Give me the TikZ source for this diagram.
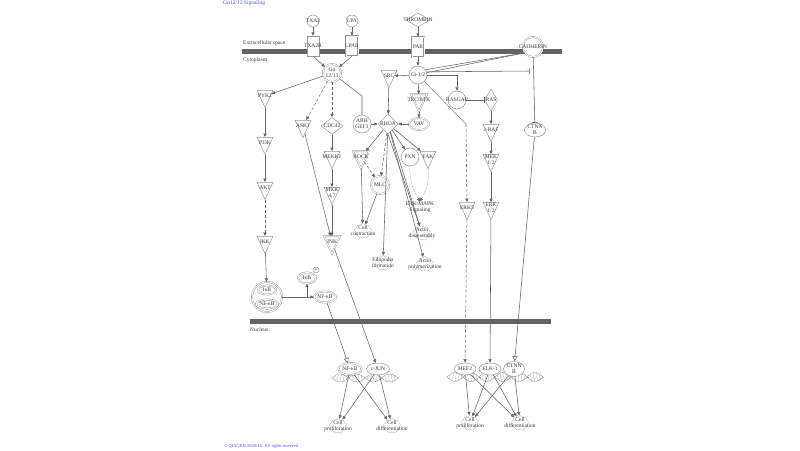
\documentclass[tikz,border=0pt]{standalone}
\usepackage{fontspec}
\setmainfont{Liberation Serif}
\usetikzlibrary{shapes.geometric,shapes.symbols,arrows.meta}
\definecolor{ncol}{RGB}{150,150,150}
\definecolor{ecol}{RGB}{100,100,100}
\definecolor{barcol}{RGB}{100,100,100}
\definecolor{tcol}{RGB}{55,55,55}
\definecolor{bluet}{RGB}{80,80,235}
\newcommand\mknode[4]{\node[#1] (#2) at (#3) {}; \node[lbl] (#2t) at (#2.center) {#4};}
\newcommand\mkfn[3]{\node[cld] (#1) at (#2) {}; \node[lbl] (#1t) at (#1.center) {#3};}
\begin{document}
\begin{tikzpicture}[x=1pt,y=-1pt,
 shp/.style={draw=ncol,fill=white,inner sep=0pt,line width=0.5pt},
 dbl/.style={double=white,double distance=0.9pt,line width=0.4pt},
 circ/.style={shp,circle,minimum size=#1},
 ell/.style 2 args={shp,ellipse,minimum width=#1,minimum height=#2},
 rct/.style={shp,rectangle,minimum width=12,minimum height=20},
 kin/.style={shp,regular polygon,regular polygon sides=3,shape border rotate=180,minimum size=23,xscale=0.8},
 dia/.style 2 args={shp,diamond,minimum width=#1,minimum height=#2},
 cld/.style={cloud,cloud puffs=9,cloud puff arc=120,aspect=1.2,draw=ncol!80,line width=0.3pt,minimum width=17,minimum height=15,inner sep=0pt},
 lbl/.style={font=\fontsize{5.5}{5.9}\selectfont,text=tcol,inner sep=0pt,align=center},
 cmp/.style={font=\fontsize{5.5}{5.9}\selectfont,text=tcol,inner sep=0pt,anchor=west},
 ln/.style={draw=ecol,line width=0.55pt},
 ed/.style={ln,-{Triangle[length=3.5pt,width=3.2pt]}},
 inh/.style={ln,-{Bar[width=6pt]}},
 tr/.style={ln,-{Triangle[open,length=5pt,width=5pt]}},
 dsh/.style={dash pattern=on 3pt off 2pt},
 hx/.style={draw=ncol,line width=0.4pt},
 hh/.style={draw=ncol,line width=0.2pt}
]
\useasboundingbox (0,0) rectangle (800,450);
% title and footer
\node[anchor=north west,text=bluet,font=\fontsize{5.5}{6}\selectfont,inner sep=0pt] (title) at (223,0.5) {Gα12/13 Signaling};
\node[anchor=west,text=bluet,font=\fontsize{4.5}{5}\selectfont,inner sep=0pt] (foot) at (224,446) {© QIAGEN 2000-15. All rights reserved};
% membranes
\fill[barcol] (242,48.5) rectangle (562,53.5);
\fill[barcol] (250,318.5) rectangle (551,323.5);
\node[cmp] (ecs) at (243,43) {Extracellular space};
\node[cmp] (cyt) at (243,60) {Cytoplasm};
\node[cmp] (nuc) at (250,330) {Nucleus};
% DNA helices
\draw[hx] plot[domain=332:398,samples=60] (\x,{378+4*sin((\x-332)*10.909)});
\draw[hx] plot[domain=332:398,samples=60] (\x,{378-4*sin((\x-332)*10.909)});
\foreach \xx in {334,337,...,397} \draw[hh] (\xx,{378+4*sin((\xx-332)*10.909)}) -- (\xx+1.5,{378-4*sin((\xx-332)*10.909)});
\draw[hx] plot[domain=447:543,samples=80] (\x,{377+4.5*sin((\x-447)*11.25)});
\draw[hx] plot[domain=447:543,samples=80] (\x,{377-4.5*sin((\x-447)*11.25)});
\foreach \xx in {449,452,...,542} \draw[hh] (\xx,{377+4.5*sin((\xx-447)*11.25)}) -- (\xx+1.5,{377-4.5*sin((\xx-447)*11.25)});
% extracellular / membrane
\mknode{circ=12}{TXA2}{313,21}{TXA2}
\mknode{circ=12}{LPA}{352,21}{LPA}
\mknode{dia={24}{14}}{THROMBIN}{418,20}{THROMBIN}
\mknode{rct}{TXA2R}{313,46}{TXA2R}
\mknode{rct,dbl}{LPAR}{352,46}{LPAR}
\mknode{rct,dbl}{PAR}{418,47}{PAR}
\mknode{circ=20,dbl}{CADH}{533,47}{CADHERIN}
% cytoplasm
\mknode{circ=18,dbl}{G1213}{332,73}{Gα\\12/13}
\mknode{circ=18}{Gi}{418,75}{Gi-1/2}
\mknode{kin}{SRC}{389,76}{SRC}
\mknode{kin,dbl}{TEC}{419,100}{TEC/BTK}
\mknode{circ=18}{RASGAP}{457,100}{RASGAP}
\mknode{dia={13}{22}}{RAS}{491,100}{RAS}
\mknode{kin}{PYK2}{265,96}{PYK2}
\mknode{kin}{ASK1}{303,126}{ASK1}
\mknode{dia={22}{17}}{CDC42}{332,126}{CDC42}
\mknode{circ=18}{ARH}{362,124}{ARH\\GEF1}
\mknode{dia={20}{20}}{RHOA}{388,124}{RHOA}
\mknode{ell={20}{12},dbl}{VAV}{419,124}{VAV}
\mknode{kin}{CRAF}{491,130}{c-RAF}
\mknode{ell={21}{14}}{CTNNc}{535,130}{CTNN\\B}
\mknode{kin}{PI3K}{265,143}{PI3K}
\mknode{kin}{MEKK1}{332,157}{MEKK1}
\mknode{kin,dbl}{ROCK}{361,157}{ROCK}
\mknode{circ=18}{PXN}{410,157}{PXN}
\mknode{kin}{FAK}{428,157}{FAK}
\mknode{kin}{MEK}{491,160}{MEK\\1/2}
\mknode{kin}{AKT}{265,188}{AKT}
\mknode{circ=18,dbl}{MLC}{380,185}{MLC}
\mknode{kin}{MKK}{332,193}{MKK\\4/7}
\node[lbl] (ERKMAPK) at (420,207) {ERK/MAPK\\Signaling};
\mknode{kin}{ERK5}{467,208}{ERK5}
\mknode{kin}{ERK}{491,208}{ERK\\1/2}
\mkfn{CC}{363,231}{Cell\\contraction}
\mkfn{AD}{422,233}{Actin\\disassembly}
\mkfn{FF}{383,263}{Filopodia\\formation}
\mkfn{AP}{425,264}{Actin\\polymerization}
\mknode{kin}{IKK}{265,242}{IKK}
\mknode{kin,dbl}{JNK}{332,242}{JNK}
\mknode{ell={18}{11},dbl}{IKBP}{307,278}{IκB}
\node[shp,circle,minimum size=6] (P) at (316,270) {};
\node[lbl,font=\fontsize{3.5}{3.5}\selectfont] (Pt) at (P.center) {P};
\node[shp,dbl,circle,minimum size=30] (CPX) at (267,297) {};
\mknode{ell={18}{9},dbl}{CIKB}{267,290}{IκB}
\mknode{ell={22}{9},dbl}{CNFKB}{267,304}{NF-κB}
\mknode{ell={22}{11},dbl}{NFKBc}{325,297}{NF-κB}
% nucleus
\mknode{ell={23}{12},dbl}{NFKBn}{350,369}{NF-κB}
\mknode{ell={23}{12}}{CJUN}{378,369}{c-JUN}
\mknode{ell={22}{12}}{MEF2}{465,369}{MEF2}
\mknode{ell={22}{12}}{ELK1}{490,369}{ELK-1}
\mknode{ell={21}{15}}{CTNNn}{514,369}{CTNN\\B}
\mkfn{CPL}{338,426}{Cell\\proliferation}
\mkfn{CDL}{392,426}{Cell\\differentiation}
\mkfn{CPR}{470,423}{Cell\\proliferation}
\mkfn{CDR}{520,423}{Cell\\differentiation}
% edges: receptors
\draw[ed] (TXA2) -- (TXA2R);
\draw[ed] (LPA) -- (LPAR);
\draw[ed] (TXA2R.south) -- (G1213);
\draw[ed] (LPAR.south) -- (G1213);
\draw[ed] (THROMBIN) -- (PAR);
\draw[ed] (PAR) -- (Gi);
% Gi
\draw[ed] (Gi) -- (SRC);
\draw[ed] (Gi) -- (TEC);
\draw[ed] (Gi.east) -| (RASGAP.north);
\draw[ln] (Gi.15) -- (CADH.215);
\draw[ln] (Gi.35) -- (CADH.215);
\coordinate (ib) at (530,71);
\draw[inh] (Gi.20) -- (ib);
\coordinate (k1) at (466,124);
\draw[draw=ecol,line width=0.35pt] (Gi) -- (k1);
\draw[ed,dsh] (k1) -- (ERK5);
% G12/13
\draw[ed] (G1213) -- (PYK2);
\draw[ed,dsh,line width=0.4pt] (G1213) -- (ASK1);
\draw[ed,dsh] (G1213) -- (CDC42);
\coordinate (a1) at (362,96);
\draw[ln] (G1213) -- (a1) -- (ARH);
% RHOA
\draw[ed] (ARH) -- (RHOA);
\draw[ed] (SRC) -- (RHOA);
\draw[ed] (TEC) -- (VAV);
\draw[ed] (VAV) -- (RHOA);
\draw[ed] (RHOA) -- (ROCK);
\draw[ed,dsh] (RHOA) -- (MLC);
\draw[ed] (RHOA) -- (PXN);
\draw[ed] (RHOA) -- (FAK);
\draw[ed] (RHOA) -- (FF);
\draw[ed] (RHOA) -- (AD);
\draw[ed] (RHOA.south) -- (AD);
\draw[ed] (RHOA) -- (AP);
\draw[ed,densely dotted,line width=0.4pt] (PXN) to[bend right=15] (ERKMAPK.north);
\draw[ed,densely dotted,line width=0.4pt] (FAK) to[bend left=15] (ERKMAPK.north);
\draw[ed,dsh] (ROCK) -- (MLC);
\draw[ed] (ROCK) -- (CC);
\draw[ed] (MLC) -- (CC);
% PI3K branch
\draw[ed] (PYK2) -- (PI3K);
\draw[ed] (PI3K) -- (AKT);
\draw[ed,dsh] (AKT) -- (IKK);
\draw[ed] (IKK) -- (CPX);
\draw[ed] (CPX.east) -- (NFKBc.west);
\coordinate (c1) at (307,297);
\draw[ed] (c1) -- (IKBP);
\draw[tr] (NFKBc) -- (NFKBn);
% JNK branch
\draw[ed] (ASK1) -- (JNK);
\draw[ed] (CDC42) -- (MEKK1);
\draw[ed] (MEKK1) -- (MKK);
\draw[ed] (MKK) -- (JNK);
\draw[ed] (JNK) -- (CJUN);
% RAS branch
\draw[inh] (RASGAP) -- (RAS);
\draw[ed] (RAS) -- (CRAF);
\draw[ed] (CRAF) -- (MEK);
\draw[ed] (MEK) -- (ERK);
\draw[ed] (ERK) -- (ELK1);
\draw[ed,dsh] (ERK5) -- (MEF2);
\draw[inh] (CADH) -- (CTNNc);
\draw[tr] (CTNNc) -- (CTNNn);
% nucleus outputs
\draw[ed] (NFKBn) -- (CPL);
\draw[ed] (NFKBn) -- (CDL);
\draw[ed] (CJUN) -- (CPL);
\draw[ed] (CJUN) -- (CDL);
\draw[ed] (MEF2) -- (CPR);
\draw[ed] (MEF2) -- (CDR);
\draw[ed] (ELK1) -- (CPR);
\draw[ed] (ELK1) -- (CDR);
\draw[ed] (CTNNn) -- (CPR);
\draw[ed] (CTNNn) -- (CDR);
\end{tikzpicture}
\end{document}
